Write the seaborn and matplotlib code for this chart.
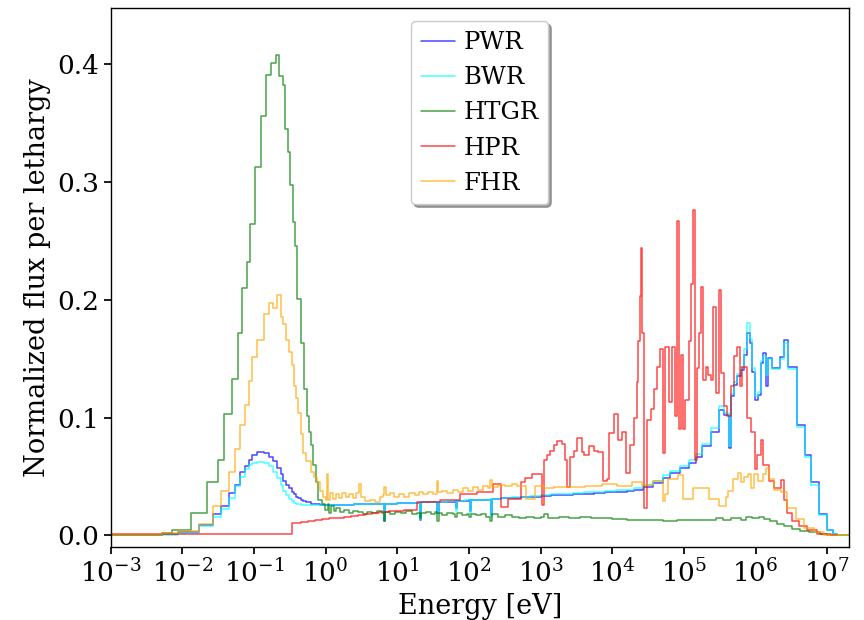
import numpy as np
import pandas as pd
import matplotlib
matplotlib.use("Agg")
import matplotlib.pyplot as plt
import seaborn as sns
from matplotlib.ticker import LogLocator, NullLocator, FormatStrFormatter

# ---------------- data (log10 of group lower edges in eV, flux per lethargy) -------------
TH_EDGES = [-3.0, -2.279, -2.056, -1.762, -1.567, -1.460, -1.348, -1.260, -1.190, -1.124,
            -1.068, -1.022, -0.952, -0.859, -0.785, -0.729, -0.673, -0.626, -0.589, -0.552,
            -0.514, -0.472, -0.440, -0.412, -0.380, -0.346, -0.310, -0.277, -0.207, -0.161,
            -0.123, -0.077, -0.031]

pwr_th = [0.0008, 0.0012, 0.003, 0.0093, 0.018, 0.025, 0.036, 0.043, 0.054, 0.059, 0.064,
          0.0686, 0.071, 0.070, 0.067, 0.063, 0.057, 0.052, 0.046, 0.043, 0.040, 0.037, 0.035,
          0.033, 0.0315, 0.0305, 0.029, 0.028, 0.027, 0.0268, 0.0265, 0.026, 0.026]
bwr_th = [0.0005, 0.0008, 0.0025, 0.008, 0.016, 0.0226, 0.032, 0.042, 0.050, 0.056, 0.0596,
          0.0616, 0.0625, 0.0616, 0.059, 0.054, 0.049, 0.043, 0.038, 0.034, 0.031, 0.029, 0.0275,
          0.027, 0.0265, 0.026, 0.026, 0.0258, 0.0255, 0.0255, 0.0255, 0.0255, 0.0255]
fhr_th = [0.0006, 0.0017, 0.0037, 0.010, 0.025, 0.038, 0.054, 0.073, 0.0935, 0.111, 0.131,
          0.151, 0.166, 0.188, 0.197, 0.193, 0.204, 0.185, 0.179, 0.166, 0.156, 0.145, 0.1265,
          0.117, 0.104, 0.0864, 0.070, 0.063, 0.054, 0.050, 0.045, 0.0375, 0.033]

LWR_EDGES = [0.00, 0.20, 0.40, 0.60, 0.80, 0.81, 0.835, 1.00, 1.15, 1.30, 1.31, 1.335, 1.45,
             1.55, 1.56, 1.58, 1.70, 1.81, 1.82, 1.835, 1.95, 2.00, 2.01, 2.025, 2.15, 2.30,
             2.31, 2.325, 2.45, 2.60, 2.72, 2.85, 3.00, 3.15, 3.30, 3.45, 3.60, 3.75, 3.90,
             4.05, 4.20, 4.30, 4.43, 4.57, 4.71, 4.81, 4.95, 5.063, 5.161, 5.254, 5.380,
             5.486, 5.556, 5.626, 5.659, 5.696, 5.743, 5.789, 5.835, 5.883, 5.919, 5.953,
             5.985, 6.031, 6.069, 6.101, 6.138, 6.170, 6.232, 6.334, 6.394, 6.450, 6.571,
             6.683, 6.767, 6.883, 7.000, 7.084, 7.14]
pwr_ep = [0.026, 0.0262, 0.0264, 0.0266, 0.0268, 0.012, 0.027, 0.0272, 0.0275, 0.0277, 0.013,
          0.028, 0.0282, 0.0284, 0.019, 0.0286, 0.0288, 0.029, 0.023, 0.0292, 0.0295, 0.0297,
          0.021, 0.030, 0.0302, 0.0305, 0.017, 0.031, 0.0315, 0.032, 0.0325, 0.033, 0.0335,
          0.034, 0.0345, 0.035, 0.0355, 0.036, 0.0365, 0.0372, 0.038, 0.039, 0.0415, 0.0447,
          0.049, 0.053, 0.057, 0.0615, 0.067, 0.0757, 0.088, 0.1068, 0.1025, 0.074, 0.118,
          0.128, 0.135, 0.1407, 0.153, 0.172, 0.163, 0.139, 0.115, 0.1195, 0.146, 0.155,
          0.1265, 0.1506, 0.142, 0.151, 0.166, 0.143, 0.094, 0.0686, 0.045, 0.0178, 0.005,
          0.001]
bwr_ep = [0.0258, 0.026, 0.0263, 0.0266, 0.0268, 0.013, 0.027, 0.0273, 0.0276, 0.0278, 0.014,
          0.0282, 0.0284, 0.0286, 0.020, 0.0288, 0.029, 0.0292, 0.021, 0.0294, 0.0297, 0.030,
          0.019, 0.0302, 0.0305, 0.0308, 0.016, 0.0312, 0.0318, 0.0324, 0.033, 0.0336, 0.0342,
          0.0348, 0.0354, 0.036, 0.0366, 0.0372, 0.0378, 0.0385, 0.039, 0.040, 0.043, 0.046,
          0.051, 0.055, 0.059, 0.064, 0.069, 0.078, 0.091, 0.110, 0.104, 0.076, 0.120, 0.130,
          0.137, 0.143, 0.158, 0.180, 0.167, 0.142, 0.118, 0.122, 0.148, 0.152, 0.136, 0.150,
          0.141, 0.150, 0.163, 0.141, 0.092, 0.067, 0.043, 0.0175, 0.005, 0.001]

fhr_ep_edges = [0.00, 0.02, 0.035, 0.06, 0.10, 0.14, 0.18, 0.23, 0.28, 0.33, 0.38, 0.43, 0.47,
                0.49, 0.55, 0.62, 0.69, 0.76, 0.80, 0.82, 0.84, 0.90, 0.96, 1.03, 1.10, 1.17,
                1.24, 1.30, 1.36, 1.43, 1.50, 1.55, 1.57, 1.63, 1.70, 1.77, 1.84, 1.91, 1.98,
                2.05, 2.12, 2.19, 2.26, 2.30, 2.32, 2.40, 2.50, 2.60, 2.67, 2.80, 2.92, 3.04,
                3.18, 3.62, 3.86, 4.07, 4.28, 4.42, 4.57, 4.70, 4.73, 4.77, 4.92, 4.98, 5.13,
                5.35, 5.49, 5.58, 5.62, 5.68, 5.75, 5.79, 5.83, 5.89, 5.93, 5.97, 6.03, 6.10,
                6.14, 6.18, 6.25, 6.35, 6.44, 6.56, 6.67, 6.81, 6.95, 7.31]
fhr_ep = [0.030, 0.052, 0.030, 0.036, 0.031, 0.035, 0.032, 0.036, 0.033, 0.035, 0.032, 0.036,
          0.044, 0.033, 0.029, 0.030, 0.028, 0.033, 0.034, 0.041, 0.034, 0.036, 0.033, 0.035,
          0.033, 0.036, 0.034, 0.037, 0.035, 0.037, 0.035, 0.046, 0.037, 0.038, 0.036, 0.039,
          0.037, 0.040, 0.038, 0.041, 0.039, 0.042, 0.040, 0.047, 0.041, 0.043, 0.042, 0.044,
          0.042, 0.031, 0.042, 0.040, 0.041, 0.042, 0.044, 0.042, 0.045, 0.043, 0.046, 0.029,
          0.035, 0.0475, 0.051, 0.031, 0.040, 0.031, 0.025, 0.033, 0.0375, 0.0475, 0.053,
          0.045, 0.050, 0.052, 0.040, 0.052, 0.046, 0.052, 0.057, 0.0475, 0.039, 0.0367,
          0.0235, 0.0136, 0.0065, 0.0028, 0.0003]

htgr_edges = [-3.00, -2.288, -2.148, -1.883, -1.651, -1.506, -1.418, -1.302, -1.226, -1.162,
              -1.101, -1.050, -0.980, -0.905, -0.827, -0.761, -0.696, -0.654, -0.598, -0.566,
              -0.524, -0.492, -0.458, -0.422, -0.394, -0.342, -0.296, -0.263, -0.226, -0.198,
              -0.170, -0.137, -0.101, -0.053, -0.007, 0.03, 0.05, 0.08, 0.11, 0.15, 0.20,
              0.26, 0.32, 0.38, 0.45, 0.52, 0.58, 0.65, 0.72, 0.78, 0.81, 0.835, 0.90, 0.97,
              1.05, 1.12, 1.20, 1.28, 1.31, 1.335, 1.40, 1.47, 1.53, 1.555, 1.58, 1.63, 1.70,
              1.77, 1.81, 1.835, 1.90, 1.97, 2.00, 2.025, 2.10, 2.17, 2.24, 2.30, 2.325, 2.40,
              2.50, 2.60, 2.70, 2.80, 2.90, 3.00, 3.05, 3.10, 3.25, 3.40, 3.55, 3.70, 3.85,
              4.00, 4.20, 4.50, 4.70, 4.90, 5.10, 5.30, 5.45, 5.55, 5.65, 5.75, 5.80, 5.87,
              5.95, 6.05, 6.12, 6.20, 6.30, 6.40, 6.50, 6.62, 6.75, 6.90, 7.05, 7.30]
htgr_flux = [0.0005, 0.0022, 0.005, 0.019, 0.045, 0.064, 0.103, 0.133, 0.172, 0.210, 0.232,
             0.264, 0.313, 0.356, 0.391, 0.401, 0.408, 0.390, 0.382, 0.345, 0.325, 0.297,
             0.266, 0.246, 0.201, 0.163, 0.124, 0.101, 0.0875, 0.077, 0.060, 0.045, 0.030,
             0.027, 0.022, 0.027, 0.019, 0.025, 0.021, 0.023, 0.020, 0.022, 0.019, 0.021,
             0.020, 0.018, 0.020, 0.019, 0.021, 0.019, 0.012, 0.020, 0.018, 0.020, 0.019,
             0.021, 0.018, 0.019, 0.015, 0.019, 0.020, 0.018, 0.020, 0.012, 0.019, 0.017,
             0.019, 0.018, 0.016, 0.019, 0.017, 0.018, 0.016, 0.018, 0.017, 0.018, 0.016,
             0.012, 0.018, 0.016, 0.017, 0.016, 0.015, 0.016, 0.015, 0.016, 0.018, 0.015,
             0.016, 0.015, 0.016, 0.015, 0.0145, 0.014, 0.0135, 0.013, 0.0125, 0.013, 0.013,
             0.0135, 0.0145, 0.013, 0.0145, 0.015, 0.0135, 0.016, 0.0145, 0.0155, 0.014,
             0.012, 0.010, 0.008, 0.0058, 0.0042, 0.003, 0.0014, 0.0003]

hpr_edges = [-3.00, -0.472, -0.35, -0.25, -0.15, -0.05, 0.05, 0.15, 0.25, 0.35, 0.45, 0.55,
             0.65, 0.75, 0.88, 1.00, 1.10, 1.27, 1.60, 1.88, 2.11, 2.34, 2.44, 2.55, 2.72,
             2.786, 2.88, 3.02, 3.04, 3.09, 3.135, 3.18, 3.23, 3.30, 3.345, 3.37, 3.414, 3.46,
             3.50, 3.58, 3.60, 3.67, 3.75, 3.80, 3.87, 3.92, 3.96, 4.02, 4.075, 4.137, 4.197,
             4.253, 4.30, 4.337, 4.355, 4.383, 4.397, 4.42, 4.44, 4.48, 4.535, 4.575, 4.62,
             4.662, 4.713, 4.74, 4.788, 4.835, 4.868, 4.905, 4.928, 4.951, 4.99, 5.02, 5.066,
             5.10, 5.128, 5.15, 5.175, 5.206, 5.24, 5.268, 5.30, 5.33, 5.37, 5.408, 5.44,
             5.486, 5.51, 5.556, 5.603, 5.65, 5.696, 5.743, 5.78, 5.813, 5.883, 5.939, 5.985,
             6.022, 6.069, 6.10, 6.185, 6.255, 6.348, 6.394, 6.44, 6.51, 6.603, 6.72, 6.86,
             7.00, 7.14]
hpr_flux = [0.0015, 0.0107, 0.0115, 0.0122, 0.013, 0.0137, 0.0145, 0.0152, 0.016, 0.0167,
            0.0175, 0.0182, 0.019, 0.0195, 0.0205, 0.021, 0.0215, 0.028, 0.030, 0.035, 0.037,
            0.044, 0.024, 0.031, 0.045, 0.049, 0.052, 0.026, 0.064, 0.068, 0.072, 0.077,
            0.080, 0.078, 0.064, 0.041, 0.067, 0.072, 0.083, 0.0706, 0.0686, 0.0757, 0.072,
            0.0706, 0.046, 0.048, 0.087, 0.103, 0.081, 0.0875, 0.053, 0.077, 0.100, 0.13,
            0.165, 0.203, 0.244, 0.172, 0.0237, 0.098, 0.107, 0.124, 0.143, 0.158, 0.070,
            0.160, 0.113, 0.160, 0.101, 0.267, 0.090, 0.153, 0.090, 0.115, 0.165, 0.213,
            0.276, 0.064, 0.142, 0.172, 0.211, 0.132, 0.143, 0.136, 0.132, 0.194, 0.121,
            0.208, 0.138, 0.110, 0.101, 0.1265, 0.152, 0.160, 0.1265, 0.143, 0.0997, 0.088,
            0.056, 0.0686, 0.081, 0.060, 0.046, 0.040, 0.047, 0.0305, 0.019, 0.012, 0.0079,
            0.0045, 0.0015, 0.0003]

LABELS = ["PWR", "BWR", "HTGR", "HPR", "FHR"]
COLORS = ["blue", "cyan", "green", "red", "orange"]

# ---------------- build step series ----------------
def series(edges, flux):
    x = 10.0 ** np.asarray(edges, dtype=float)
    y = list(flux) + [flux[-1]]
    return pd.DataFrame({"E": x, "flux": y})

data = {
    "PWR": series(TH_EDGES + LWR_EDGES, pwr_th + pwr_ep),
    "BWR": series(TH_EDGES + LWR_EDGES, bwr_th + bwr_ep),
    "HTGR": series(htgr_edges, htgr_flux),
    "HPR": series(hpr_edges, hpr_flux),
    "FHR": series(TH_EDGES + fhr_ep_edges, fhr_th + fhr_ep),
}

# ---------------- style ----------------
sns.set_theme(style="ticks")
plt.rcParams.update({
    "font.family": ["DejaVu Serif"],
    "text.color": "black",
    "axes.labelcolor": "black",
    "axes.edgecolor": "black",
    "xtick.color": "black",
    "ytick.color": "black",
    "axes.linewidth": 1.0,
    "xtick.major.size": 5,
    "ytick.major.size": 5,
})

fig = plt.figure(figsize=(8.64, 6.2), dpi=100)
ax = fig.add_axes([0.128, 0.1177, 0.8546, 0.8694])

for lab, col in zip(LABELS, COLORS):
    d = data[lab]
    sns.lineplot(data=d, x="E", y="flux", ax=ax, color=col, alpha=0.72, linewidth=1.1,
                 drawstyle="steps-post", estimator=None, sort=False, label=lab)

ax.set_xscale("log")
ax.set_xlim(1e-3, 2e7)
ax.set_ylim(-0.0098, 0.4475)
ax.xaxis.set_major_locator(LogLocator(base=10, numticks=20))
ax.xaxis.set_minor_locator(NullLocator())
ax.set_yticks([0.0, 0.1, 0.2, 0.3, 0.4])
ax.yaxis.set_major_formatter(FormatStrFormatter("%.1f"))
ax.tick_params(labelsize=19)
ax.set_xlabel("Energy [eV]", fontsize=19.5)
ax.set_ylabel("Normalized flux per lethargy", fontsize=19.5)
for s in ax.spines.values():
    s.set_visible(True)

leg = ax.legend(loc="upper center", fontsize=17.5, frameon=True, shadow=True, fancybox=True,
                framealpha=1.0, handlelength=1.4, handletextpad=0.35, borderaxespad=0.55)
leg.get_frame().set_edgecolor("0.8")

fig.savefig("out.png", dpi=100)
